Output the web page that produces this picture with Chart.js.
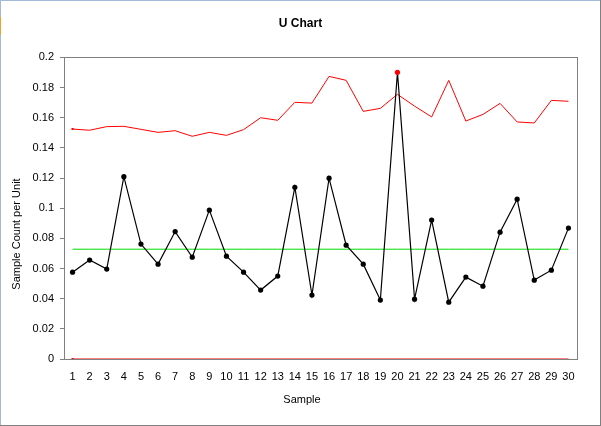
<!DOCTYPE html>
<html>
<head>
<meta charset="utf-8">
<script src="https://cdn.jsdelivr.net/npm/chart.js@4"></script>
<style>
  html, body { margin: 0; padding: 0; background: #fff; }
  #wrap { width: 601px; height: 426px; position: relative; }
</style>
</head>
<body>
<div id="wrap"><canvas id="uChart" width="601" height="426"></canvas></div>
<script>
// Chart data
const samples = ['1','2','3','4','5','6','7','8','9','10','11','12','13','14','15',
  '16','17','18','19','20','21','22','23','24','25','26','27','28','29','30'];
const uValues = [0.0576, 0.0656, 0.0596, 0.1209, 0.0762, 0.0629, 0.0845, 0.0675, 0.0987, 0.0682,
  0.0576, 0.0457, 0.0550, 0.1139, 0.0424, 0.1199, 0.0755, 0.0629, 0.0391, 0.1901,
  0.0397, 0.0921, 0.0377, 0.0543, 0.0483, 0.0841, 0.1060, 0.0523, 0.0589, 0.0868];
const uclValues = [0.1525, 0.1517, 0.1541, 0.1543, 0.1523, 0.1503, 0.1514, 0.1477, 0.1503, 0.1483,
  0.1521, 0.1600, 0.1583, 0.1702, 0.1697, 0.1874, 0.1848, 0.1642, 0.1662, 0.1755,
  0.1677, 0.1605, 0.1848, 0.1578, 0.1622, 0.1695, 0.1572, 0.1565, 0.1715, 0.1709];
const centerLine = 0.0728;
const lowerLimit = 0;
const yTicks = [0, 0.02, 0.04, 0.06, 0.08, 0.1, 0.12, 0.14, 0.16, 0.18, 0.2];

const FONT = "'Liberation Sans', Arial, sans-serif";

// points above their UCL are flagged red
const pointColors = uValues.map((v, i) => v > uclValues[i] ? '#ff0000' : '#000000');
const firstOnly = samples.map((s, i) => i === 0 ? 1.5 : 0);

const framePlugin = {
  id: 'framePlugin',
  beforeDatasetsDraw(chart) {
    const { ctx, chartArea: a } = chart;
    ctx.save();
    ctx.strokeStyle = '#808080';
    ctx.lineWidth = 1;
    ctx.strokeRect(Math.round(a.left) + 0.5, Math.round(a.top) + 0.5,
      Math.round(a.right - a.left), Math.round(a.bottom - a.top));
    ctx.restore();
  },
  afterDraw(chart) {
    const { ctx, width, height } = chart;
    ctx.save();
    ctx.fillStyle = '#000';
    ctx.font = '11px ' + FONT;
    ctx.textAlign = 'center';
    ctx.textBaseline = 'middle';
    ctx.fillText('Sample', 302, 400);
    ctx.translate(17, 234);
    ctx.rotate(-Math.PI / 2);
    ctx.fillText('Sample Count per Unit', 0, 0);
    ctx.restore();

    // outer window edges
    ctx.save();
    ctx.fillStyle = '#a3bbd8';
    ctx.fillRect(0, 0, width, 1);
    ctx.fillRect(0, 0, 1, height);
    ctx.fillStyle = '#f0a030';
    ctx.fillRect(0, 17, 1, 18);
    ctx.fillStyle = '#808080';
    ctx.fillRect(width - 1, 0, 1, height);
    ctx.fillRect(0, height - 1, width, 1);
    ctx.restore();
  }
};

new Chart(document.getElementById('uChart'), {
  type: 'line',
  data: {
    labels: samples,
    datasets: [
      {
        label: 'u',
        data: uValues,
        borderColor: '#000000',
        borderWidth: 1.2,
        pointRadius: 2.6,
        pointBackgroundColor: pointColors,
        pointBorderColor: pointColors,
        pointBorderWidth: 0,
        tension: 0
      },
      {
        label: 'UCL',
        data: uclValues,
        borderColor: '#ff0000',
        borderWidth: 1,
        pointStyle: 'rect',
        pointRadius: firstOnly,
        pointBackgroundColor: '#ff0000',
        pointBorderWidth: 0,
        tension: 0
      },
      {
        label: 'Center',
        data: samples.map(() => centerLine),
        borderColor: 'rgb(0,220,0)',
        borderWidth: 1,
        pointRadius: 0,
        tension: 0
      },
      {
        label: 'LCL',
        data: samples.map(() => lowerLimit),
        borderColor: '#ff0000',
        borderWidth: 1.2,
        pointStyle: 'rect',
        pointRadius: firstOnly,
        pointBackgroundColor: '#ff0000',
        pointBorderWidth: 0,
        tension: 0
      }
    ]
  },
  options: {
    responsive: false,
    animation: false,
    layout: { padding: 0 },
    plugins: {
      legend: { display: false },
      tooltip: { enabled: false },
      title: {
        display: true,
        text: 'U Chart',
        color: '#000',
        font: { family: FONT, size: 12, weight: 'bold' },
        padding: { top: 16, bottom: 27 }
      }
    },
    scales: {
      x: {
        offset: true,
        grid: { display: false, drawTicks: false },
        border: { display: true, color: '#808080' },
        ticks: { color: '#000', font: { family: FONT, size: 11 }, padding: 11, maxRotation: 0, autoSkip: false },
        afterFit(scale) { scale.height = 67; }
      },
      y: {
        min: 0,
        max: 0.2,
        afterBuildTicks(scale) { scale.ticks = yTicks.map(v => ({ value: v })); },
        grid: { display: true, drawOnChartArea: false, drawTicks: true, tickLength: 4, color: '#808080' },
        border: { display: true, color: '#808080' },
        ticks: {
          color: '#000',
          font: { family: FONT, size: 11 },
          padding: 6,
          callback: v => String(+v.toFixed(2))
        },
        afterFit(scale) { scale.width = 64; }
      },
      yRight: {
        position: 'right',
        display: true,
        grid: { display: false },
        border: { display: false },
        ticks: { display: false },
        afterFit(scale) { scale.width = 24; }
      }
    }
  },
  plugins: [framePlugin]
});
</script>
</body>
</html>
